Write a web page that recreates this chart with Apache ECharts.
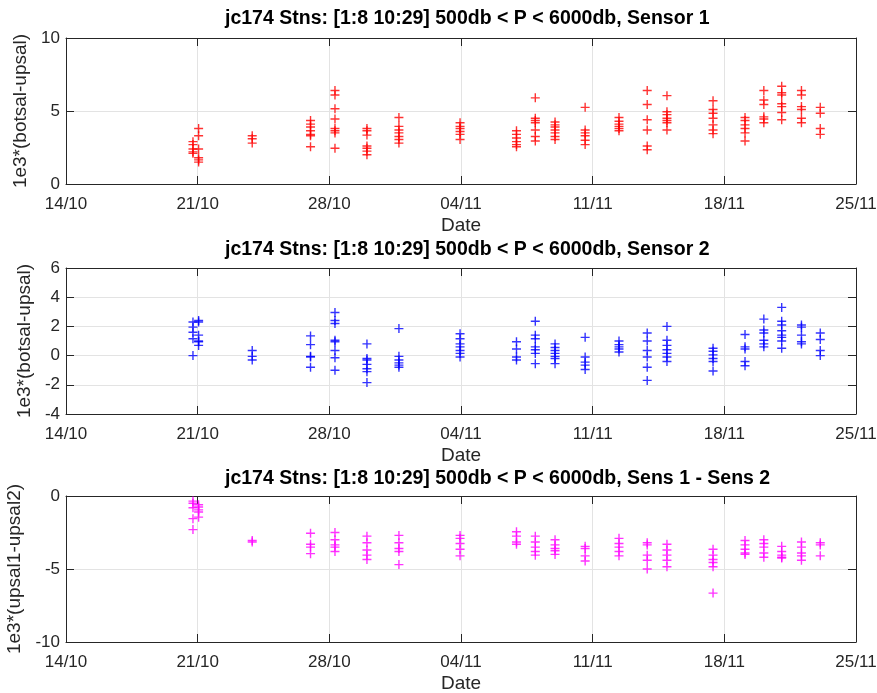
<!DOCTYPE html>
<html>
<head>
<meta charset="utf-8">
<script src="https://cdn.jsdelivr.net/npm/echarts@6/dist/echarts.min.js"></script>
<style>
  html, body { margin: 0; background: #fff; }
  #chart { width: 877px; height: 693px; }
</style>
</head>
<body>
<div id="chart"></div>
<script>
// x tick labels, one every 7 days starting 14/10
const dateTicks = ['14/10', '21/10', '28/10', '04/11', '11/11', '18/11', '25/11']
// station times, days after 14/10 00:00
const stationDays = [6.75, 7.05, 9.9, 13.0, 14.3, 16.0, 17.7, 20.95, 23.95, 24.95, 26.0,
  27.6, 29.4, 30.9, 31.95, 34.4, 36.1, 37.1, 38.05, 39.1, 40.1]

// 1e3*(botsal-upsal), sensor 1
const sensor1 = [
  [2.9, 2.7, 2.4, 2.2, 2.1],
  [3.8, 3.3, 2.4, 1.8, 1.65, 1.5],
  [3.3, 3.1, 2.8],
  [4.35, 4.1, 3.9, 3.65, 3.4, 3.3, 2.55],
  [6.4, 6.1, 5.15, 4.45, 3.8, 3.65, 3.5, 2.45],
  [3.8, 3.65, 3.35, 2.6, 2.45, 2.25, 2.0],
  [4.55, 3.95, 3.7, 3.5, 3.25, 3.05, 2.8],
  [4.2, 3.95, 3.8, 3.6, 3.4, 3.05],
  [3.65, 3.4, 3.15, 2.9, 2.7, 2.55],
  [5.9, 4.5, 4.35, 4.2, 3.7, 3.25, 2.95],
  [4.25, 4.05, 3.9, 3.7, 3.5, 3.25, 3.05],
  [5.25, 3.7, 3.5, 3.3, 3.0, 2.7],
  [4.55, 4.3, 4.1, 3.95, 3.8, 3.65],
  [6.4, 5.45, 4.4, 3.7, 2.6, 2.35],
  [6.05, 4.95, 4.75, 4.5, 4.35, 4.2, 3.7],
  [5.7, 5.1, 4.85, 4.5, 4.05, 3.7, 3.45],
  [4.55, 4.35, 4.05, 3.8, 3.5, 2.95],
  [6.4, 5.75, 5.45, 4.6, 4.45, 4.2],
  [6.7, 6.25, 6.1, 5.5, 5.3, 4.9, 4.4],
  [6.4, 6.1, 5.3, 5.1, 4.5, 4.2],
  [5.25, 4.85, 3.8, 3.4]
]
// 1e3*(botsal-upsal), sensor 2
const sensor2 = [
  [2.3, 1.95, 1.6, 1.15, 0.0],
  [2.4, 2.3, 1.4, 0.95, 0.7, 1.0],
  [0.35, -0.05, -0.3],
  [1.35, 0.75, -0.05, -0.1, -0.8],
  [2.95, 2.4, 2.2, 1.05, 0.95, 0.35, -0.15, -1.0],
  [0.8, -0.2, -0.3, -0.6, -0.9, -1.1, -1.85],
  [1.85, -0.05, -0.3, -0.5, -0.65, -0.8],
  [1.5, 1.15, 0.8, 0.6, 0.35, 0.15, -0.1],
  [0.95, 0.45, -0.1, -0.3],
  [2.35, 1.4, 1.15, 0.6, 0.4, 0.15, -0.55],
  [0.8, 0.55, 0.35, 0.15, -0.05, -0.2, -0.55],
  [1.25, -0.1, -0.45, -0.65, -0.95],
  [1.0, 0.75, 0.6, 0.45, 0.25],
  [1.55, 1.0, 0.35, -0.1, -0.8, -1.7],
  [2.0, 1.05, 0.7, 0.4, 0.15, -0.1, -0.4],
  [0.5, 0.3, 0.05, -0.2, -0.4, -1.05],
  [1.45, 0.6, 0.45, -0.4, -0.7],
  [2.5, 1.75, 1.55, 1.05, 0.8, 0.6],
  [3.3, 2.35, 2.1, 1.7, 1.4, 1.25, 1.0, 0.5],
  [2.1, 1.95, 1.4, 0.95, 0.8],
  [1.55, 1.1, 0.35, 0.0]
]
// 1e3*(upsal1-upsal2)
const sensDiff = [
  [-0.35, -0.5, -0.8, -1.55, -2.3],
  [-0.6, -0.95, -1.1, -0.75, -1.45],
  [-3.05, -3.15],
  [-2.55, -3.3, -3.5, -3.95],
  [-2.5, -3.0, -3.35, -3.5, -3.8],
  [-2.75, -3.2, -3.7, -4.05, -4.35],
  [-2.7, -3.2, -3.6, -3.8, -4.7],
  [-2.7, -2.9, -3.25, -3.65, -4.1],
  [-2.45, -2.75, -3.15, -3.3],
  [-2.75, -3.15, -3.5, -3.8, -4.05],
  [-3.0, -3.35, -3.6, -3.75, -4.0],
  [-3.45, -3.6, -4.1, -4.45],
  [-2.9, -3.25, -3.5, -3.8, -4.1],
  [-3.2, -3.35, -4.05, -4.4, -5.0],
  [-3.3, -3.7, -4.05, -4.4, -4.85],
  [-3.65, -4.05, -4.35, -4.55, -4.85, -6.65],
  [-3.05, -3.35, -3.65, -3.9, -4.0],
  [-3.0, -3.25, -3.5, -3.9, -4.2],
  [-3.45, -3.8, -4.05, -4.2, -4.25],
  [-3.15, -3.5, -3.9, -4.1, -4.4],
  [-3.2, -3.35, -4.1]
]

const titles = [
  'jc174 Stns: [1:8 10:29] 500db < P < 6000db, Sensor 1',
  'jc174 Stns: [1:8 10:29] 500db < P < 6000db, Sensor 2',
  'jc174 Stns: [1:8 10:29] 500db < P < 6000db, Sens 1 - Sens 2'
]
const yNames = ['1e3*(botsal-upsal)', '1e3*(botsal-upsal)', '1e3*(upsal1-upsal2)']
const yRanges = [[0, 10, 5], [-4, 6, 2], [-10, 0, 5]]
const colors = ['#ff0000', '#0000ff', '#ff00ff']
const panels = [sensor1, sensor2, sensDiff]

const font = 'Liberation Sans, Arial, Helvetica, sans-serif'
const ink = '#262626'
const gridTops = [38, 268, 496]
const titleY = [19, 250, 479]
const plusSymbol = 'path://M5,0L5,10M0,5L10,5'

function toPoints(vals) {
  let pts = []
  vals.forEach((arr, i) => {
    arr.forEach(v => pts.push([stationDays[i], v]))
  })
  return pts
}

const boxAxis = { onZero: false, lineStyle: { color: ink, width: 1 } }
const boxTick = { show: true, inside: true, length: 8, lineStyle: { color: ink } }

let grid = [], xAxis = [], yAxis = [], series = [], graphic = []
panels.forEach((vals, k) => {
  grid.push({ left: 66, width: 790, top: gridTops[k], height: 146, outerBoundsMode: 'none', containLabel: false })
  // bottom x axis
  xAxis.push({
    type: 'value', gridIndex: k, min: 0, max: 42, interval: 7,
    name: 'Date', nameLocation: 'middle', nameGap: 32,
    nameTextStyle: { color: ink, fontSize: 19, fontFamily: font },
    axisLine: boxAxis,
    axisTick: boxTick,
    axisLabel: {
      color: ink, fontSize: 17, fontFamily: font, margin: 12,
      formatter: v => dateTicks[Math.round(v / 7)]
    },
    splitLine: { show: true, lineStyle: { color: '#e3e3e3', width: 1 } }
  })
  // top x axis (box + ticks only)
  xAxis.push({
    type: 'value', gridIndex: k, min: 0, max: 42, interval: 7, position: 'top',
    axisLine: boxAxis, axisTick: boxTick,
    axisLabel: { show: false }, splitLine: { show: false }
  })
  const r = yRanges[k]
  yAxis.push({
    type: 'value', gridIndex: k, min: r[0], max: r[1], interval: r[2],
    name: yNames[k], nameLocation: 'middle', nameGap: 26, nameRotate: 90,
    nameTextStyle: { color: ink, fontSize: 19, fontFamily: font },
    axisLine: Object.assign({ show: true }, boxAxis),
    axisTick: boxTick,
    axisLabel: { color: ink, fontSize: 17, fontFamily: font, margin: 6 },
    splitLine: { show: true, lineStyle: { color: '#e3e3e3', width: 1 } }
  })
  yAxis.push({
    type: 'value', gridIndex: k, min: r[0], max: r[1], interval: r[2], position: 'right',
    axisLine: Object.assign({ show: true }, boxAxis), axisTick: boxTick,
    axisLabel: { show: false }, splitLine: { show: false }
  })
  series.push({
    type: 'scatter',
    xAxisIndex: k * 2, yAxisIndex: k * 2,
    data: toPoints(vals),
    symbol: plusSymbol,
    symbolSize: 9,
    itemStyle: { color: 'transparent', borderColor: colors[k], borderWidth: 1.4 },
    emphasis: { disabled: true },
    silent: true
  })
  graphic.push({
    type: 'text', x: 225, y: titleY[k],
    style: { text: titles[k], fill: '#000', font: 'bold 19.5px ' + font, verticalAlign: 'middle' }
  })
})

const chart = echarts.init(document.getElementById('chart'))
chart.setOption({
  animation: false,
  backgroundColor: '#fff',
  grid, xAxis, yAxis, series, graphic
})
</script>
</body>
</html>
